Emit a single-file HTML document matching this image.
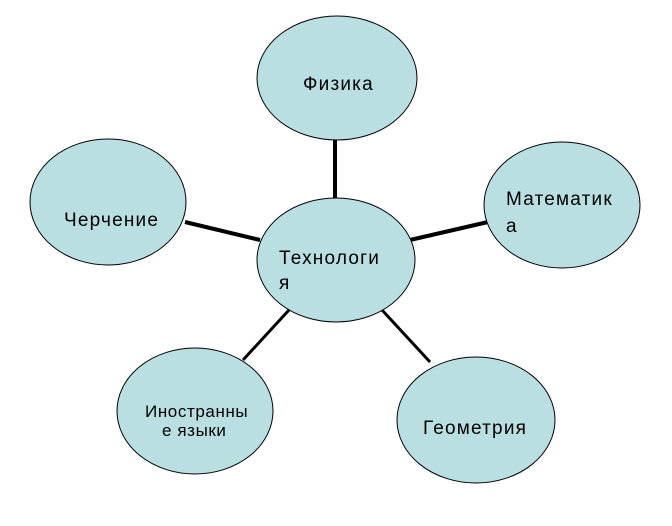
<!DOCTYPE html>
<html><head><meta charset="utf-8"><style>body{margin:0;background:#fff}</style></head><body>
<svg width="672" height="521" xmlns="http://www.w3.org/2000/svg" font-family="Liberation Sans, DejaVu Sans, sans-serif" font-size="19" letter-spacing="1.2" fill="#000">
<g stroke="#000">
<line x1="335" y1="138" x2="335" y2="200" stroke-width="4"/>
<line x1="185" y1="222" x2="260" y2="240" stroke-width="4"/>
<line x1="410" y1="240" x2="488" y2="222" stroke-width="4"/>
<line x1="243" y1="360" x2="289" y2="310" stroke-width="3"/>
<line x1="382" y1="310" x2="430" y2="362" stroke-width="3"/>
</g>
<g fill="#b9dfe3" stroke="#000" stroke-width="1">
<ellipse cx="337" cy="78" rx="80" ry="62"/>
<ellipse cx="108" cy="202" rx="78" ry="63"/>
<ellipse cx="562" cy="205" rx="78" ry="63"/>
<ellipse cx="336" cy="260" rx="79" ry="62"/>
<ellipse cx="195" cy="411" rx="78" ry="63"/>
<ellipse cx="476" cy="420" rx="79" ry="63"/>
</g>
<text x="303" y="90">Физика</text>
<text x="64" y="226">Черчение</text>
<text x="506" y="205">Математик</text>
<text x="506" y="232">а</text>
<text x="279" y="264">Технологи</text>
<text x="279" y="289">я</text>
<text x="145" y="417" font-size="17" letter-spacing="0.6">Иностранны</text>
<text x="162" y="436" font-size="17" letter-spacing="0.6">е языки</text>
<text x="423" y="434">Геометрия</text>
</svg>
</body></html>
